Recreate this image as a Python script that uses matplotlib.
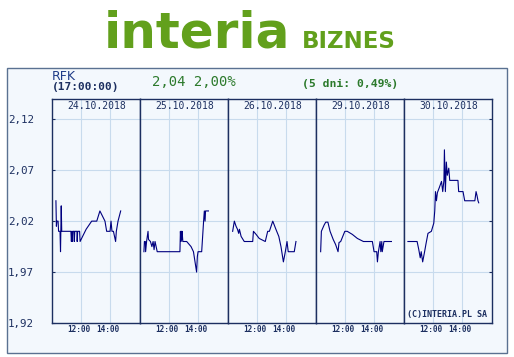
import matplotlib
matplotlib.use("Agg")
import matplotlib.pyplot as plt
from matplotlib.patches import Rectangle

# dane notowań RFK (czas, kurs) dla każdego dnia
days = ["24.10.2018", "25.10.2018", "26.10.2018", "29.10.2018", "30.10.2018"]

day1_times = ["10:15", "10:17", "10:19", "10:24", "10:26", "10:32", "10:34", "10:37", "10:39",
              "10:57", "11:17", "11:19", "11:21", "11:23", "11:25", "11:30", "11:31", "11:33",
              "11:42", "11:43", "11:45", "11:53", "11:55", "12:20", "12:43", "13:04", "13:17",
              "13:38", "13:45", "13:59", "14:03", "14:07", "14:13", "14:22", "14:25", "14:32", "14:43"]
day1_prices = [2.040, 2.015, 2.020, 2.020, 2.010, 2.010, 1.990, 2.035, 2.010,
               2.010, 2.010, 2.000, 2.010, 2.000, 2.010, 2.010, 2.000, 2.010,
               2.010, 2.000, 2.010, 2.010, 2.000, 2.012, 2.020, 2.020, 2.030,
               2.020, 2.010, 2.010, 2.020, 2.010, 2.010, 2.000, 2.010, 2.020, 2.030]

day2_times = ["10:15", "10:17", "10:21", "10:22", "10:26", "10:32", "10:34", "10:42", "10:48",
              "10:53", "10:57", "11:01", "11:10", "12:44", "12:46", "12:48", "12:50", "12:52",
              "12:53", "12:56", "13:12", "13:30", "13:40", "13:53", "13:56", "13:59", "14:14",
              "14:22", "14:25", "14:28", "14:30", "14:42"]
day2_prices = [1.990, 2.000, 2.000, 1.990, 2.000, 2.010, 2.002, 2.000, 1.995,
               2.000, 1.992, 2.000, 1.990, 1.990, 2.010, 2.000, 2.010, 2.002,
               2.010, 2.000, 2.000, 1.995, 1.990, 1.970, 1.985, 1.990, 1.990,
               2.020, 2.030, 2.020, 2.030, 2.030]

day3_times = ["10:18", "10:25", "10:32", "10:38", "10:43", "10:46", "10:53", "11:06", "11:41",
              "11:44", "11:55", "12:08", "12:33", "12:43", "12:50", "13:04", "13:17", "13:29",
              "13:38", "13:48", "13:56", "14:03", "14:08", "14:33", "14:40"]
day3_prices = [2.010, 2.020, 2.015, 2.012, 2.008, 2.012, 2.005, 2.000, 2.000,
               2.010, 2.007, 2.003, 2.000, 2.010, 2.010, 2.020, 2.012, 2.005,
               1.995, 1.980, 1.990, 2.000, 1.990, 1.990, 2.000]

day4_times = ["10:18", "10:21", "10:32", "10:39", "10:48", "10:57", "11:10", "11:20", "11:30",
              "11:34", "11:41", "11:58", "12:08", "12:29", "12:50", "13:15", "13:52", "13:59",
              "14:10", "14:13", "14:17", "14:24", "14:27", "14:31", "14:33", "14:40", "15:11"]
day4_prices = [1.990, 2.010, 2.016, 2.019, 2.019, 2.010, 2.002, 1.997, 1.990,
               1.999, 2.000, 2.010, 2.010, 2.007, 2.003, 2.000, 2.000, 1.990,
               1.990, 1.980, 1.990, 2.000, 1.990, 2.000, 1.990, 2.000, 2.000]

day5_times = ["10:15", "10:53", "11:00", "11:06", "11:10", "11:16", "11:24", "11:30", "11:38",
              "11:52", "12:02", "12:06", "12:09", "12:13", "12:17", "12:25", "12:34", "12:39",
              "12:44", "12:46", "12:50", "12:54", "12:58", "13:04", "13:08", "13:15", "13:42",
              "13:45", "14:03", "14:10", "14:52", "14:57", "15:01", "15:05", "15:08"]
day5_prices = [2.000, 2.000, 1.992, 1.984, 1.990, 1.980, 1.990, 1.998, 2.008,
               2.010, 2.018, 2.030, 2.049, 2.040, 2.048, 2.053, 2.059, 2.049,
               2.060, 2.090, 2.049, 2.078, 2.065, 2.072, 2.060, 2.060, 2.060,
               2.049, 2.049, 2.040, 2.040, 2.049, 2.045, 2.040, 2.038]

all_times = [day1_times, day2_times, day3_times, day4_times, day5_times]
all_prices = [day1_prices, day2_prices, day3_prices, day4_prices, day5_prices]

yticks = [1.92, 1.97, 2.02, 2.07, 2.12]
ytick_labels = ["1,92", "1,97", "2,02", "2,07", "2,12"]
xticks = [12, 14]
xtick_labels = ["12:00", "14:00"]

GREEN = "#62a01c"
TXT_GREEN = "#2c7a2c"
NAVY = "#1c2f60"
LINE = "#00007f"
GRID = "#c8dbed"
BG = "#f3f8fd"
BORDER = "#5a7191"
MONO = "DejaVu Sans Mono"


def to_hours(s):
    h, m = s.split(":")
    return int(h) + int(m) / 60


W, H = 514, 357
fig = plt.figure(figsize=(W / 100, H / 100), dpi=100)


def fx(x):
    return x / W


def fy(y):
    return 1 - y / H


# logo
fig.text(fx(197), fy(48), "interia", ha="center", va="baseline", fontsize=36,
         fontweight="bold", color=GREEN, family="DejaVu Sans")
fig.text(fx(302), fy(48), "BIZNES", ha="left", va="baseline", fontsize=16.5,
         fontweight="bold", color=GREEN, family="DejaVu Sans")

# ramka wykresu
box_top, box_bottom = 68.3, 352.7
fig.patches.append(Rectangle((fx(6.5), fy(box_bottom)), fx(500.8), (box_bottom - box_top) / H,
                             transform=fig.transFigure, facecolor=BG,
                             edgecolor=BORDER, lw=1.0, zorder=-5))

fig.text(fx(51.5), fy(77), "RFK", ha="left", va="center", fontsize=9,
         color="#1f3c88", family="DejaVu Sans")
fig.text(fx(51.5), fy(87.5), "(17:00:00)", ha="left", va="center", fontsize=8,
         fontweight="bold", color=NAVY, family=MONO)
fig.text(fx(151.5), fy(82.5), "2,04 2,00%", ha="left", va="center", fontsize=10,
         color=TXT_GREEN, family=MONO)
fig.text(fx(301.5), fy(83.5), "(5 dni: 0,49%)", ha="left", va="center", fontsize=8.2,
         fontweight="bold", color=TXT_GREEN, family=MONO)

top, bottom = 99.3, 323.0
for i in range(5):
    left = 52.3 + 88 * i
    ax = fig.add_axes([fx(left), fy(bottom), 88 / W, (bottom - top) / H])
    ax.set_facecolor(BG)
    ax.plot([to_hours(t) for t in all_times[i]], all_prices[i], color=LINE, lw=0.8)
    ax.set_xlim(10.0, 16.07)
    ax.set_ylim(1.92, 2.1396)
    ax.set_xticks(xticks)
    ax.set_xticklabels([])
    ax.set_yticks(yticks)
    ax.grid(True, color=GRID, lw=0.8)
    ax.set_axisbelow(True)
    for sp in ax.spines.values():
        sp.set_color(NAVY)
        sp.set_linewidth(1.0)
    ax.tick_params(axis="x", length=0)
    if i == 0:
        ax.set_yticklabels(ytick_labels, family=MONO, fontsize=7.8, color=NAVY)
        ax.tick_params(axis="y", direction="in", length=2.5, color=NAVY, pad=31.9)
        for lab in ax.get_yticklabels():
            lab.set_ha("left")
    elif i == 4:
        ax.set_yticklabels([])
        ax.tick_params(axis="y", direction="in", length=2.5, color=NAVY,
                       right=True, left=False)
    else:
        ax.set_yticklabels([])
        ax.tick_params(axis="y", length=0)
    ax.text(0.5, 0.970, days[i], transform=ax.transAxes, ha="center", va="center",
            fontsize=7, family=MONO, color=NAVY)
    for xt, xl in zip(xticks, xtick_labels):
        ax.text(xt - 0.2, -0.027, xl, transform=ax.get_xaxis_transform(), ha="center",
                va="center", fontsize=5.6, fontweight="bold", family=MONO, color=NAVY,
                clip_on=False)
    if i == 4:
        ax.text((406.7 - left) / 88, (bottom - 314.5) / (bottom - top),
                "(C)INTERIA.PL SA", transform=ax.transAxes, ha="left", va="center",
                fontsize=6, fontweight="bold", family=MONO, color=NAVY)

fig.savefig("out.png", dpi=100, facecolor="white")
